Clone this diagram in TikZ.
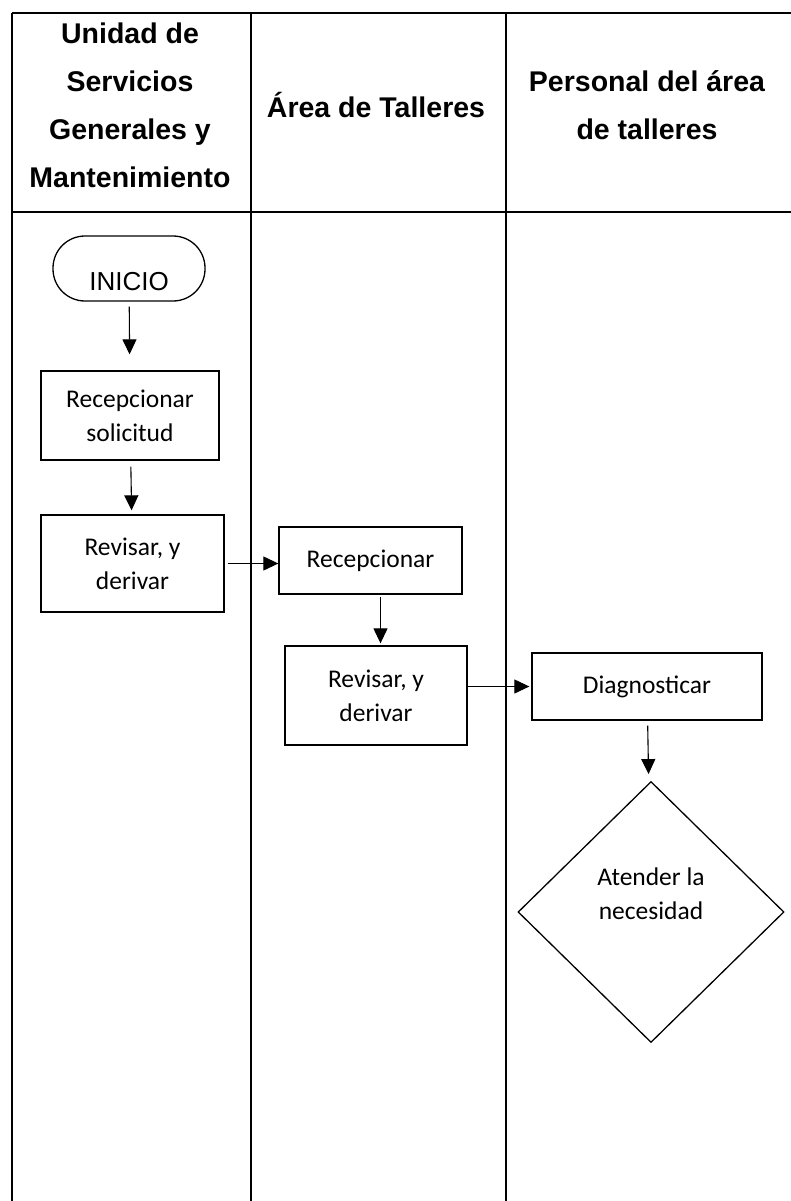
\documentclass[tikz,border=0pt]{standalone}
\usepackage{fontspec}
\setmainfont{Carlito}
\newfontfamily\arialfont{Liberation Sans}
\usetikzlibrary{arrows.meta,positioning,shapes.geometric}

\begin{document}
\begin{tikzpicture}[
    x=1pt, y=-1pt,
    lane/.style={line width=1.6pt},
    header/.style={font=\arialfont\bfseries\fontsize{28.5}{48}\selectfont, align=center},
    process/.style={draw, line width=1.3pt, align=center, font=\fontsize{25.5}{34}\selectfont},
    terminal/.style={draw, line width=1.3pt, rounded corners=32pt, font=\arialfont\fontsize{26}{30}\selectfont,
        minimum width=152pt, minimum height=65pt, inner ysep=0pt, text height=44pt, text depth=0pt},
    decision/.style={draw, diamond, line width=1.3pt, align=center, font=\fontsize{25.5}{34}\selectfont,
        minimum width=266pt, minimum height=261pt, text depth=36pt},
    flow/.style={-{Triangle[length=15pt,width=14pt]}, line width=1.1pt}
]
    \useasboundingbox (0,0) rectangle (791,1201);

    % carriles
    \draw[lane] (12,13) -- (791,13);
    \draw[lane] (12,212) -- (791,212);
    \draw[lane] (12,13) -- (12,1201);
    \draw[lane] (251,13) -- (251,1201);
    \draw[lane] (506,13) -- (506,1201);

    \node[header] (unidad) at (130,105) {Unidad de\\Servicios\\Generales y\\Mantenimiento};
    \node[header] (talleres) at (376,105) {Área de Talleres};
    \node[header] (personal) at (647,105) {Personal del área\\de talleres};

    \node[terminal] (inicio) at (129,268.5) {INICIO};

    \node[process, minimum width=178pt, minimum height=89pt] (solicitud) at (130,415.5) {Recepcionar\\solicitud};
    \node[process, minimum width=183pt, minimum height=97pt] (revisar1) at (132.5,563.5) {Revisar, y\\derivar};

    \node[process, minimum width=183pt, minimum height=67pt] (recepcion) at (370.5,560.5) {Recepcionar};
    \node[process, minimum width=182pt, minimum height=99pt] (revisar2) at (376,695.5) {Revisar, y\\derivar};

    \node[process, minimum width=230pt, minimum height=67pt] (diagnostico) at (647,686.5) {Diagnosticar};
    \node[decision] (atender) at (651,912) {Atender la\\necesidad};

    \draw[flow, shorten <=5pt, shorten >=16pt] (inicio) -- (solicitud);
    \draw[flow, shorten <=6pt, shorten >=4pt] (solicitud) -- (revisar1);
    \draw[flow, shorten <=3pt] (revisar1.east) -- (revisar1.east -| recepcion.west);
    \draw[flow, shorten <=2pt, shorten >=2pt] ([xshift=10pt]recepcion.south) -- ([xshift=10pt]recepcion.south |- revisar2.north);
    \draw[flow, shorten >=2pt] (revisar2.east |- diagnostico) -- (diagnostico.west);
    \draw[flow, shorten <=5pt, shorten >=9pt] (diagnostico) -- (atender);
\end{tikzpicture}
\end{document}
